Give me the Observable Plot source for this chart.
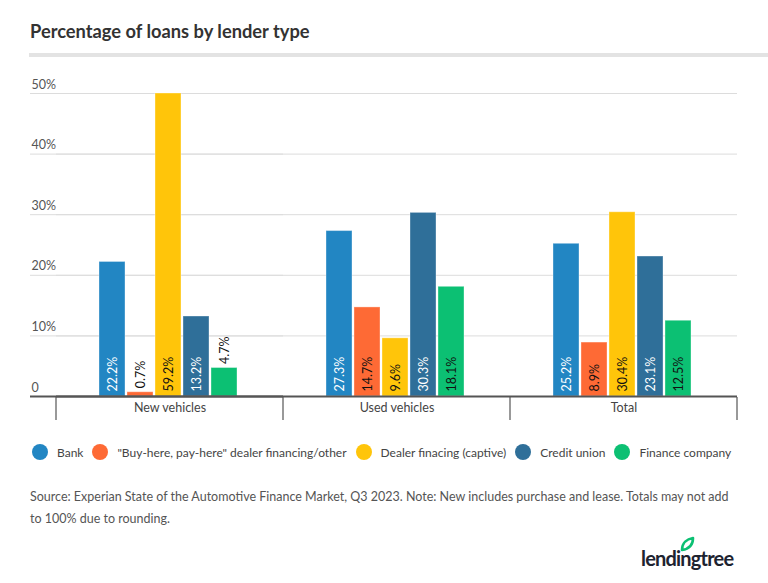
<!DOCTYPE html>
<html>
<head>
<meta charset="utf-8">
<script src="https://cdn.jsdelivr.net/npm/d3@7"></script>
<script src="https://cdn.jsdelivr.net/npm/@observablehq/plot@0.6"></script>
<style>
  html, body { margin: 0; padding: 0; background: #fff; }
  #root { position: relative; width: 768px; height: 583px; overflow: hidden; font-family: Lato, "Open Sans", sans-serif; }
  #title { position: absolute; left: 30px; top: 21px; font-size: 18.3px; font-weight: 700; color: #333; line-height: 20px; }
  #rule { position: absolute; left: 29px; right: 0; top: 53px; height: 4px; background: #e3e3e3; }
  #chart { position: absolute; left: 0; top: 60px; }
  #legend { position: absolute; left: 32px; top: 444px; display: flex; align-items: center; font-size: 12px; color: #444; white-space: nowrap; }
  #legend .item { display: flex; align-items: center; margin-right: 9px; }
  #legend .dot { width: 16px; height: 16px; border-radius: 50%; margin-right: 9px; }
  #caption { position: absolute; left: 30px; top: 486px; width: 705px; font-size: 12.5px; line-height: 22px; color: #555; }
  #logo { position: absolute; left: 638px; top: 536px; }
</style>
</head>
<body>
<div id="root">
  <div id="title"></div>
  <div id="rule"></div>
  <div id="chart"></div>
  <div id="legend"></div>
  <div id="caption"></div>
  <div id="logo">
    <svg width="110" height="40" viewBox="0 0 110 40">
      <path d="M44 14 C44 7 49 3 55 2 C55 9 51 13 44 14 Z" fill="none" stroke="#0cc073" stroke-width="2.6" stroke-linejoin="round"/>
      <text x="3" y="30" font-family="Lato, sans-serif" font-size="20" font-weight="700" fill="#1d2330" letter-spacing="-0.8">lendingtree</text>
    </svg>
  </div>
</div>
<script>
const title = "Percentage of loans by lender type";
const groups = ["New vehicles", "Used vehicles", "Total"];
const lenders = ["Bank", "\"Buy-here, pay-here\" dealer financing/other", "Dealer finacing (captive)", "Credit union", "Finance company"];
const colors = ["#2286c3", "#fe6a35", "#ffc50a", "#2f6f99", "#0cc073"];
const labelColors = ["#ffffff", "#111111", "#111111", "#ffffff", "#111111"];
const newVehicles = [22.2, 0.7, 59.2, 13.2, 4.7];
const usedVehicles = [27.3, 14.7, 9.6, 30.3, 18.1];
const totalVehicles = [25.2, 8.9, 30.4, 23.1, 12.5];
const yTicks = [0, 10, 20, 30, 40, 50];
const caption = "Source: Experian State of the Automotive Finance Market, Q3 2023. Note: New includes purchase and lease. Totals may not add to 100% due to rounding.";

const series = [newVehicles, usedVehicles, totalVehicles];
const rows = [];
groups.forEach((g, gi) => lenders.forEach((l, li) => rows.push({group: g, lender: l, value: series[gi][li], li})));

document.getElementById("title").textContent = title;
document.getElementById("caption").textContent = caption;
const legend = document.getElementById("legend");
lenders.forEach((l, i) => {
  const item = document.createElement("div");
  item.className = "item";
  const dot = document.createElement("span");
  dot.className = "dot";
  dot.style.background = colors[i];
  const t = document.createElement("span");
  t.textContent = l;
  item.appendChild(dot); item.appendChild(t);
  legend.appendChild(item);
});

const chart = Plot.plot({
  width: 768,
  height: 370,
  marginTop: 33,
  marginBottom: 34,
  marginLeft: 55,
  marginRight: 30,
  style: {fontFamily: "Lato, sans-serif", fontSize: "12.5px", color: "#444", background: "transparent"},
  fx: {domain: groups, padding: 0, label: null, axis: "bottom", tickSize: 0, tickPadding: 7},
  x: {domain: lenders, axis: null, paddingInner: 0.08, paddingOuter: 1.53, align: 0.48},
  y: {domain: [0, 50], clamp: true, axis: null},
  color: {domain: lenders, range: colors},
  marks: [
    Plot.gridY(yTicks.filter(d => d > 0), {stroke: "#dcdcdc", strokeOpacity: 1}),
    Plot.gridY(yTicks.filter(d => d > 0), {stroke: "#dcdcdc", strokeOpacity: 1, insetLeft: -26, facetAnchor: "left"}),
    Plot.axisY(yTicks, {anchor: "left", tickSize: 0, tickPadding: 0, textAnchor: "start", dx: -25, dy: -9, fill: "#555", fontSize: 12.5, label: null,
      tickFormat: d => d === 0 ? "0" : d + "%"}),
    Plot.barY(rows, {fx: "group", x: "lender", y: "value", fill: "lender", stroke: "#ffffff", strokeOpacity: 0.35, strokeWidth: 1}),
    Plot.ruleY([0], {stroke: "#555", strokeWidth: 2}),
    Plot.ruleY([0], {stroke: "#555", strokeWidth: 2, insetLeft: -26, facetAnchor: "left"}),
    Plot.text(rows.filter(d => d.value >= 5), {fx: "group", x: "lender", y: 0, text: d => d.value.toFixed(1) + "%",
      rotate: -90, textAnchor: "start", dy: -5, fontSize: 12.5, fill: d => labelColors[d.li]}),
    Plot.text(rows.filter(d => d.value < 5), {fx: "group", x: "lender", y: "value", text: d => d.value.toFixed(1) + "%",
      rotate: -90, textAnchor: "start", dy: -4, fontSize: 12.5, fill: "#111"})
  ]
});
document.getElementById("chart").appendChild(chart);

// group separators below the baseline, derived from the fx scale
const fxs = chart.scale("fx");
const ys = chart.scale("y");
const y0 = ys.apply(0);
const bounds = fxs.domain.map(d => fxs.apply(d));
bounds.push(fxs.apply(fxs.domain[fxs.domain.length - 1]) + fxs.bandwidth);
d3.select(chart).append("g").selectAll("line").data(bounds).join("line")
  .attr("x1", d => d).attr("x2", d => d)
  .attr("y1", y0 + 1).attr("y2", y0 + 24)
  .attr("stroke", "#555").attr("stroke-width", 1.2);
</script>
</body>
</html>
